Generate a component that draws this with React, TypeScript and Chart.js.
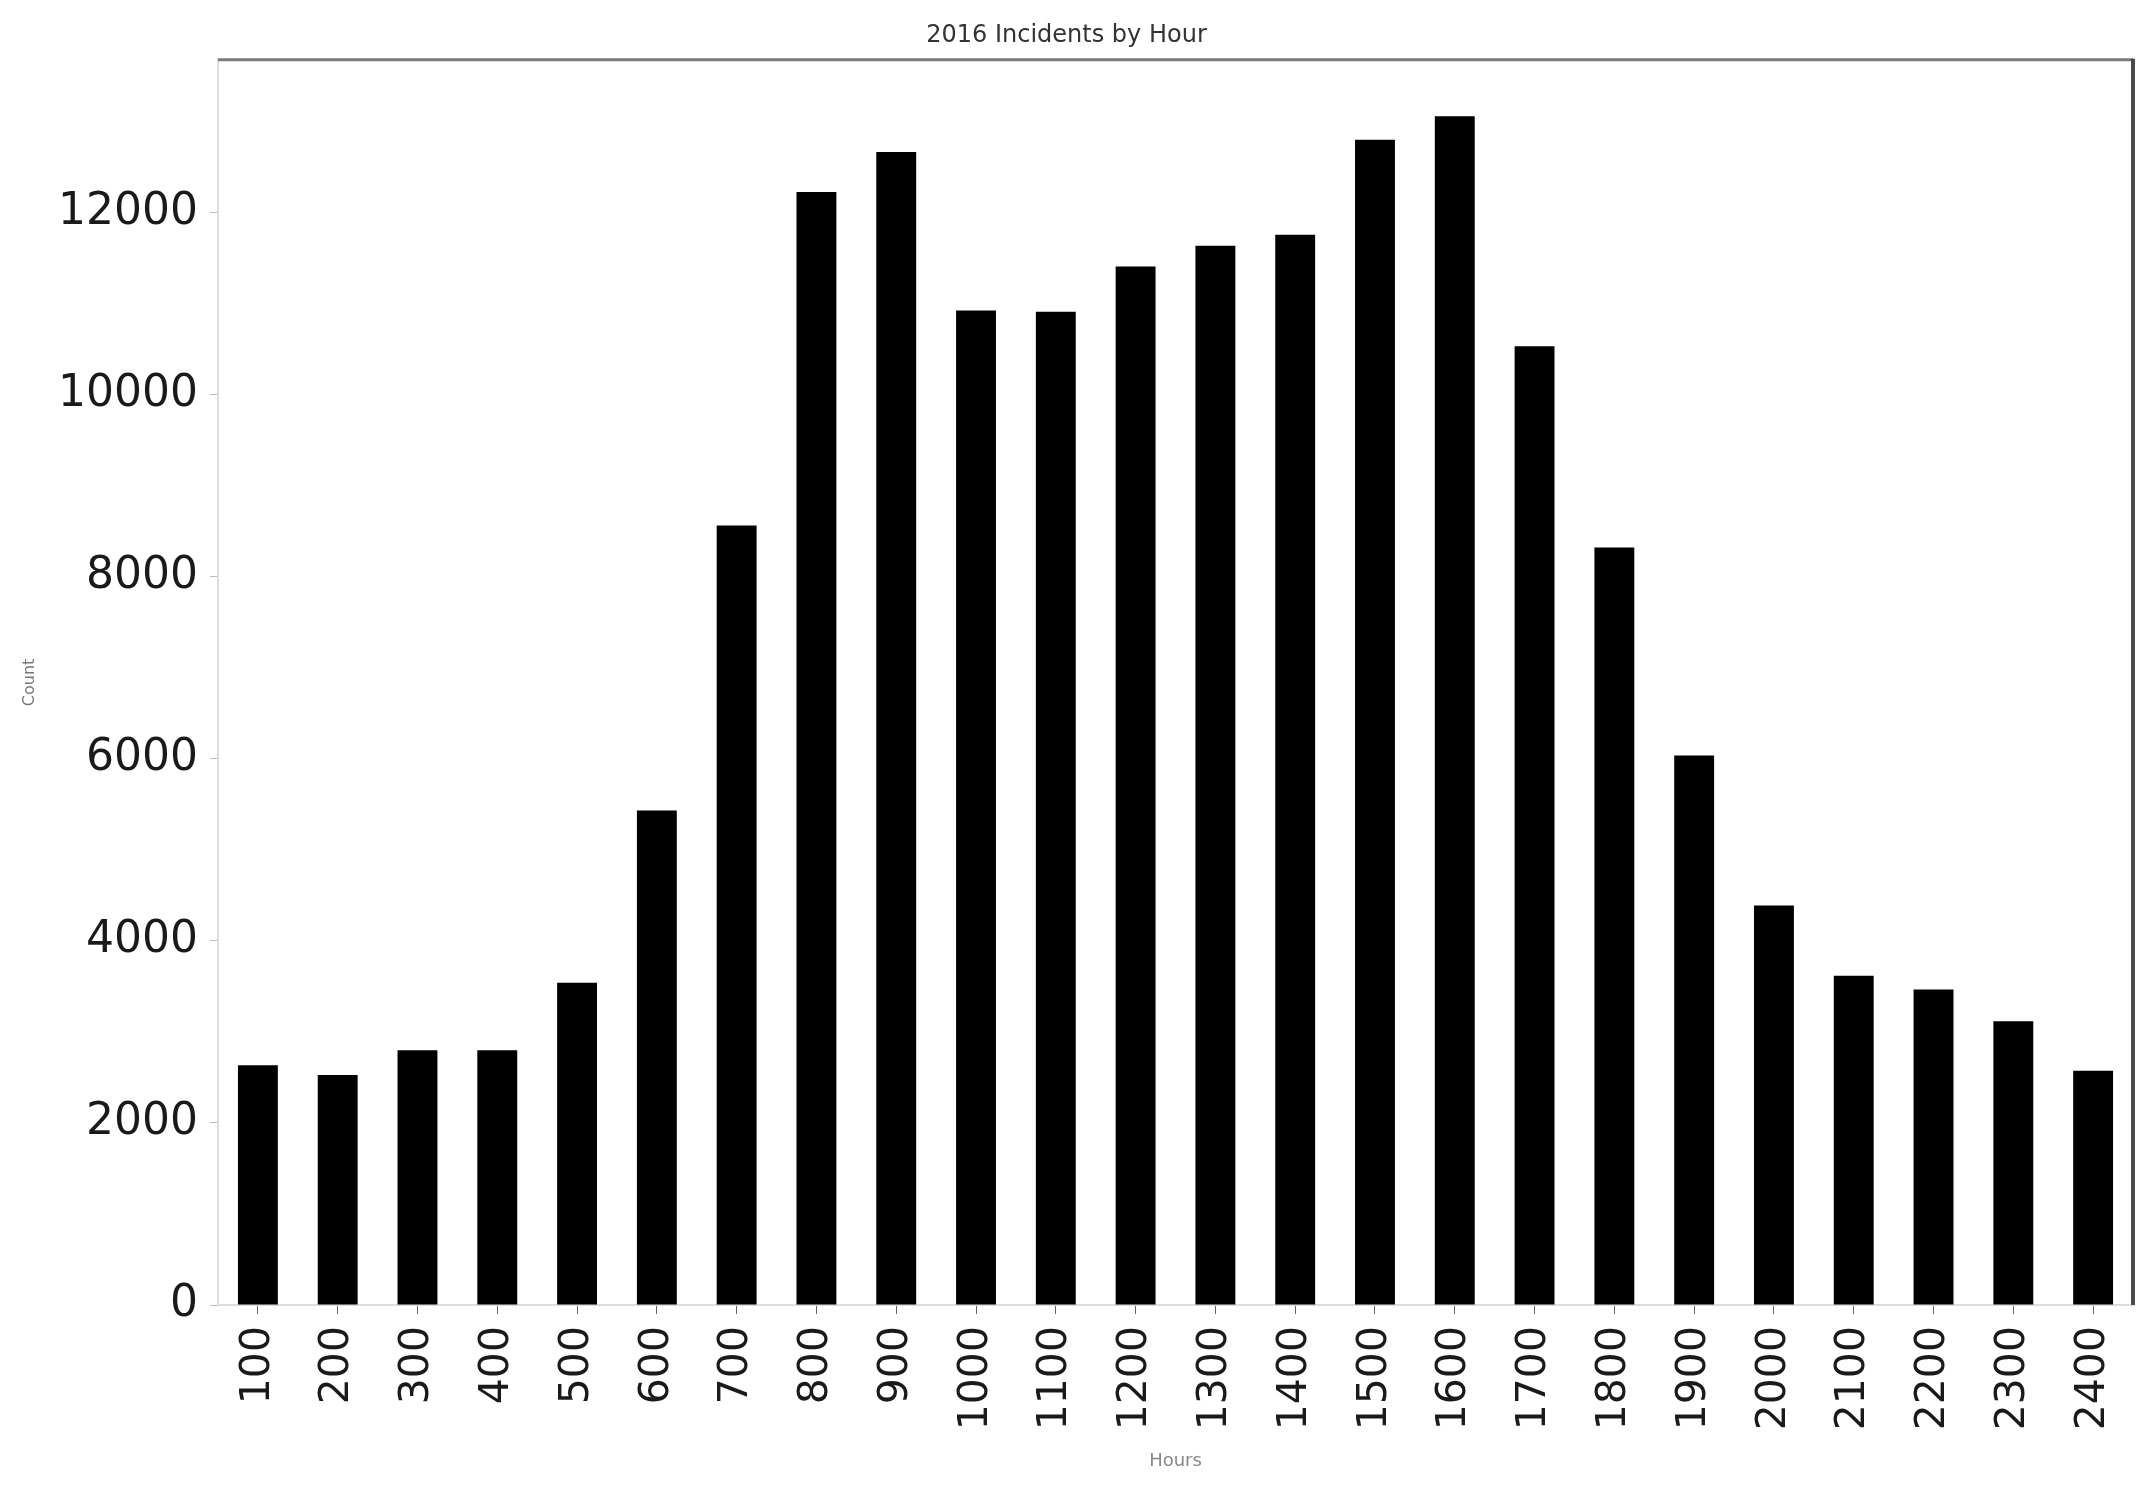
import React, { useEffect, useRef } from "react";
import { Chart, registerables } from "chart.js";

Chart.register(...registerables);

const hours = ["100","200","300","400","500","600","700","800","900","1000","1100","1200","1300","1400","1500","1600","1700","1800","1900","2000","2100","2200","2300","2400"];
const counts = [2633,2527,2800,2800,3541,5433,8565,12228,12666,10926,10911,11410,11637,11758,12803,13060,10533,8323,6038,4389,3617,3466,3117,2573];
const yTicks = [0,2000,4000,6000,8000,10000,12000];
const titleText = "2016 Incidents by Hour";
const xTitle = "Hours";
const yTitle = "Count";

const frame = {
  id: "frame",
  afterDatasetsDraw(chart: any) {
    const { ctx, chartArea } = chart;
    ctx.save();
    ctx.strokeStyle = "#7a7a7a";
    ctx.lineWidth = 3;
    ctx.beginPath();
    ctx.moveTo(chartArea.left, chartArea.top);
    ctx.lineTo(chartArea.right, chartArea.top);
    ctx.stroke();
    ctx.strokeStyle = "#4a4a4a";
    ctx.lineWidth = 4;
    ctx.beginPath();
    ctx.moveTo(chartArea.right, chartArea.top - 1);
    ctx.lineTo(chartArea.right, chartArea.bottom);
    ctx.stroke();
    ctx.restore();
  },
};

export default function App() {
  const ref = useRef<HTMLCanvasElement>(null);
  useEffect(() => {
    document.body.style.margin = "0";
    document.body.style.overflow = "hidden";
    const font = "'DejaVu Sans', sans-serif";
    const chart = new Chart(ref.current!, {
      type: "bar",
      data: {
        labels: hours,
        datasets: [{
          data: counts,
          backgroundColor: "#000000",
          borderWidth: 0,
          barPercentage: 0.5,
          categoryPercentage: 1.0,
        }],
      },
      options: {
        responsive: false,
        animation: false,
        layout: { padding: { left: 0, right: 19, top: 0, bottom: 0 } },
        plugins: {
          legend: { display: false },
          tooltip: { enabled: false },
          title: {
            display: true,
            text: titleText,
            color: "#333333",
            font: { family: font, size: 24, weight: "normal" },
            padding: { top: 21, bottom: 10 },
          },
        },
        scales: {
          x: {
            offset: true,
            grid: { display: true, drawOnChartArea: false, drawTicks: true, tickLength: 9, color: "#666666", offset: false },
            border: { display: true, color: "#dddddd", width: 2 },
            ticks: {
              color: "#1a1a1a",
              font: { family: font, size: 41 },
              minRotation: 90,
              maxRotation: 90,
              autoSkip: false,
              padding: 12,
            },
            title: {
              display: true,
              text: xTitle,
              color: "#888888",
              font: { family: font, size: 18 },
              padding: { top: 4, bottom: 24 },
            },
            afterFit(scale: any) {
              scale.height = 191;
              scale.paddingLeft = 0;
              scale.paddingRight = 0;
            },
          },
          y: {
            min: 0,
            max: 13680,
            grid: { display: true, drawOnChartArea: false, drawTicks: true, tickLength: 8, color: "#bbbbbb" },
            border: { display: true, color: "#dddddd", width: 2 },
            ticks: {
              color: "#1a1a1a",
              font: { family: font, size: 44 },
              padding: 12,
              callback: (v: any) => String(v),
            },
            afterBuildTicks(scale: any) {
              scale.ticks = yTicks.map((v) => ({ value: v }));
            },
            title: {
              display: true,
              text: yTitle,
              color: "#777777",
              font: { family: font, size: 16 },
              padding: { top: 20, bottom: 4 },
            },
            afterFit(scale: any) {
              scale.width = 218;
              scale.paddingTop = 0;
              scale.paddingBottom = 0;
            },
          },
        },
      },
      plugins: [frame],
    });
    return () => chart.destroy();
  }, []);
  return (
    <div style={{ position: "absolute", left: 0, top: 0, width: 2152, height: 1496 }}>
      <canvas ref={ref} width={2152} height={1496} style={{ display: "block" }} />
    </div>
  );
}
